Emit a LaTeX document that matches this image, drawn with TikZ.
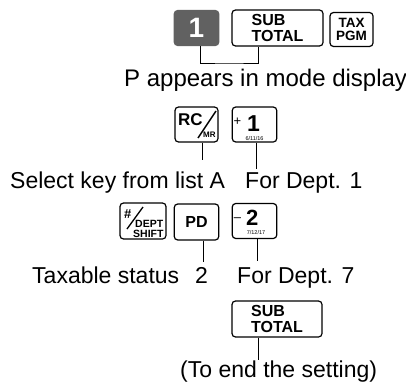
\documentclass[tikz,border=0pt]{standalone}
\usepackage{fontspec}
\setmainfont{Liberation Sans}
\newcommand\fsz[1]{\fontsize{#1}{#1}\selectfont}
\begin{document}
\begin{tikzpicture}[x=1pt, y=-1pt,
  key/.style={draw, rounded corners=3.5pt, line width=1.2pt, inner sep=0pt,
    minimum width=44.5pt, minimum height=35pt},
  wide/.style={key, minimum width=90pt, minimum height=36pt, align=left,
    font=\bfseries\fsz{16}},
  face/.style={inner sep=0pt, anchor=base west, font=\bfseries\fsz{#1}},
  small/.style={inner sep=0pt, font=\fsz{#1}},
  lbl/.style={inner sep=0pt, anchor=base west, font=\fsz{23}},
  wire/.style={line width=0.9pt}]
\useasboundingbox (0,0) rectangle (406,385);

\node[key, fill=black!62, draw=black!62, text=white, font=\bfseries\fsz{28}] (one) at (196.5,28) {1};
\node[wide, minimum width=91pt] (subtot) at (277.5,28) {SUB\\TOTAL};
\node[key, minimum width=43pt, minimum height=34pt, align=center, font=\bfseries\fsz{13.5}] (taxpgm) at (351.5,29.5) {TAX\\PGM};
\coordinate (brk) at (229,63);
\draw[wire] ([xshift=3.5pt]one.south) |- (brk) -| ([xshift=-19.5pt]subtot.south);
\node[lbl, font=\fsz{24}] (pmode) at (124,87) {P appears in mode display};

\node[key, minimum width=43pt] (rcmr) at (196.5,124.5) {};
\node[face=17] (rc) at (178,125) {RC};
\node[face=8] (mr) at (203,137) {MR};
\draw[line width=1.4pt] (216,111) -- (198,138);
\node[key] (plusone) at (254.5,124.5) {};
\node[small=13] (plus) at (237.5,122) {+};
\node[face=23] (dig1) at (247,131) {1};
\node[small=5.5] (dig1n) at (254.5,138.5) {6/11/16};
\node[lbl] (sel) at (10,188) {Select key from list A};
\node[lbl] (for1) at (245,188) {For Dept. 1};
\draw[wire, shorten >=11pt] ([xshift=5.5pt]rcmr.south) -- ([xshift=5.5pt]rcmr.south |- sel.north);
\draw[wire, shorten >=3pt] ([xshift=1.5pt]plusone.south) -- ([xshift=1.5pt]plusone.south |- for1.north);

\node[key, minimum width=46pt, minimum height=36pt] (dept) at (143,221) {};
\node[face=13] (hash) at (124,218) {\#};
\draw[line width=1.3pt] (143,207) -- (127,229);
\node[face=10.5] (dpt) at (135,227.5) {DEPT};
\node[face=10.5] (shft) at (133,237) {SHIFT};
\node[key, minimum height=36pt, font=\bfseries\fsz{16}] (pd) at (196.5,222) {PD};
\node[key] (minustwo) at (254.5,221) {};
\node[small=13] (minus) at (237.5,220) {--};
\node[face=22] (dig2) at (246,225) {2};
\node[small=5.5] (dig2n) at (256,233) {7/12/17};
\node[lbl] (tax) at (32,283) {Taxable status};
\node[lbl] (two) at (195,283) {2};
\node[lbl] (for7) at (237,283) {For Dept. 7};
\draw[wire, shorten >=5pt] ([xshift=6.5pt]pd.south) -- ([xshift=6.5pt]pd.south |- two.north);
\draw[wire, shorten >=6pt] ([xshift=2.5pt]minustwo.south) -- ([xshift=2.5pt]minustwo.south |- for7.north);

\node[wide] (subtot2) at (277,319) {SUB\\TOTAL};
\node[lbl] (endset) at (180,377) {(To end the setting)};
\draw[wire] ([xshift=-19pt]subtot2.south) -- ([xshift=-19pt]subtot2.south |- endset.north);
\end{tikzpicture}
\end{document}
